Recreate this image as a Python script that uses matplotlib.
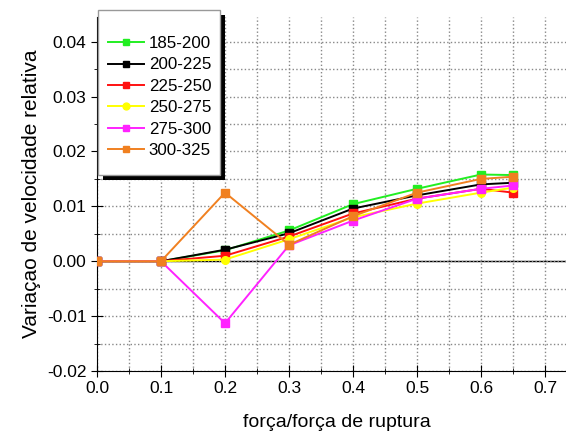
import numpy as np
import matplotlib
matplotlib.use('Agg')
import matplotlib.pyplot as plt
from matplotlib.patches import Rectangle
from matplotlib.ticker import MultipleLocator

plt.rcParams['font.family'] = ['Liberation Sans', 'DejaVu Sans']

# force / rupture force
x = [0.0, 0.1, 0.2, 0.3, 0.4, 0.5, 0.6, 0.65]

labels = ['185-200', '200-225', '225-250', '250-275', '275-300', '300-325']
colors = ['#22ee22', '#000000', '#ff1111', '#ffff00', '#ff22ff', '#f08020']
markers = ['s', 's', 's', 'o', 's', 's']

v_185 = [0.0, 0.0, 0.0020, 0.0056, 0.0104, 0.0132, 0.0158, 0.0157]
v_200 = [0.0, 0.0, 0.0021, 0.0051, 0.0096, 0.0120, 0.0140, 0.0143]
v_225 = [0.0, 0.0, 0.0010, 0.0045, 0.0087, 0.0114, 0.0132, 0.0125]
v_250 = [0.0, 0.0, 0.0003, 0.0040, 0.0080, 0.0105, 0.0125, 0.0134]
v_275 = [0.0, 0.0, -0.0113, 0.0029, 0.0074, 0.0114, 0.0132, 0.0138]
v_300 = [0.0, 0.0, 0.0125, 0.0030, 0.0082, 0.0125, 0.0150, 0.0154]
series = [v_185, v_200, v_225, v_250, v_275, v_300]

W, H = 566, 433
fig = plt.figure(figsize=(W / 100, H / 100), dpi=100)
ax = fig.add_axes([97 / W, 1 - 371 / H, 480 / W, (371 - 17) / H])

ax.axhline(0, color='black', lw=1.0, zorder=1)
for vals, lab, c, m in zip(series, labels, colors, markers):
    ax.plot(x, vals, color=c, marker=m, markersize=5.5, lw=1.4, label=lab, zorder=3)

ax.set_xlim(0, 0.75)
ax.set_ylim(-0.02, 0.0445)
ax.xaxis.set_minor_locator(MultipleLocator(0.05))
ax.yaxis.set_minor_locator(MultipleLocator(0.005))
ax.set_xticks([0, 0.1, 0.2, 0.3, 0.4, 0.5, 0.6, 0.7])
ax.set_xticklabels(['0.0', '0.1', '0.2', '0.3', '0.4', '0.5', '0.6', '0.7'])
ax.set_yticks([-0.02, -0.01, 0.0, 0.01, 0.02, 0.03, 0.04])
ax.set_yticklabels(['-0.02', '-0.01', '0.00', '0.01', '0.02', '0.03', '0.04'])
ax.grid(True, which='both', color='#888888', ls=':', lw=1.0)
ax.tick_params(which='both', direction='inout', labelsize=12.5)
ax.tick_params(which='major', length=8)
ax.tick_params(which='minor', length=4)
for s in ['top', 'right']:
    ax.spines[s].set_visible(False)

ax.set_xlabel('força/força de ruptura', fontsize=14, labelpad=13)
ax.set_ylabel('Variaçao de velocidade relativa', fontsize=15, labelpad=4)

# legend box with a solid black drop shadow
box_x0, box_y0, box_w, box_h = 98, H - 175, 122, 165
shadow = Rectangle((box_x0 + 5, box_y0 - 5), box_w, box_h, transform=None,
                   facecolor='black', edgecolor='none', zorder=8)
frame = Rectangle((box_x0, box_y0), box_w, box_h, transform=None,
                  facecolor='white', edgecolor='#999999', lw=1.0, zorder=9)
fig.patches.extend([shadow, frame])

leg = fig.legend(loc='upper left', bbox_to_anchor=(108 / W, 1 - 36 / H),
                 bbox_transform=fig.transFigure, borderaxespad=0, borderpad=0,
                 fontsize=12.2, frameon=False, handlelength=2.1,
                 labelspacing=0.38, handletextpad=0.3, markerscale=0.9)
leg.set_zorder(10)

fig.savefig('out.png', dpi=100)
